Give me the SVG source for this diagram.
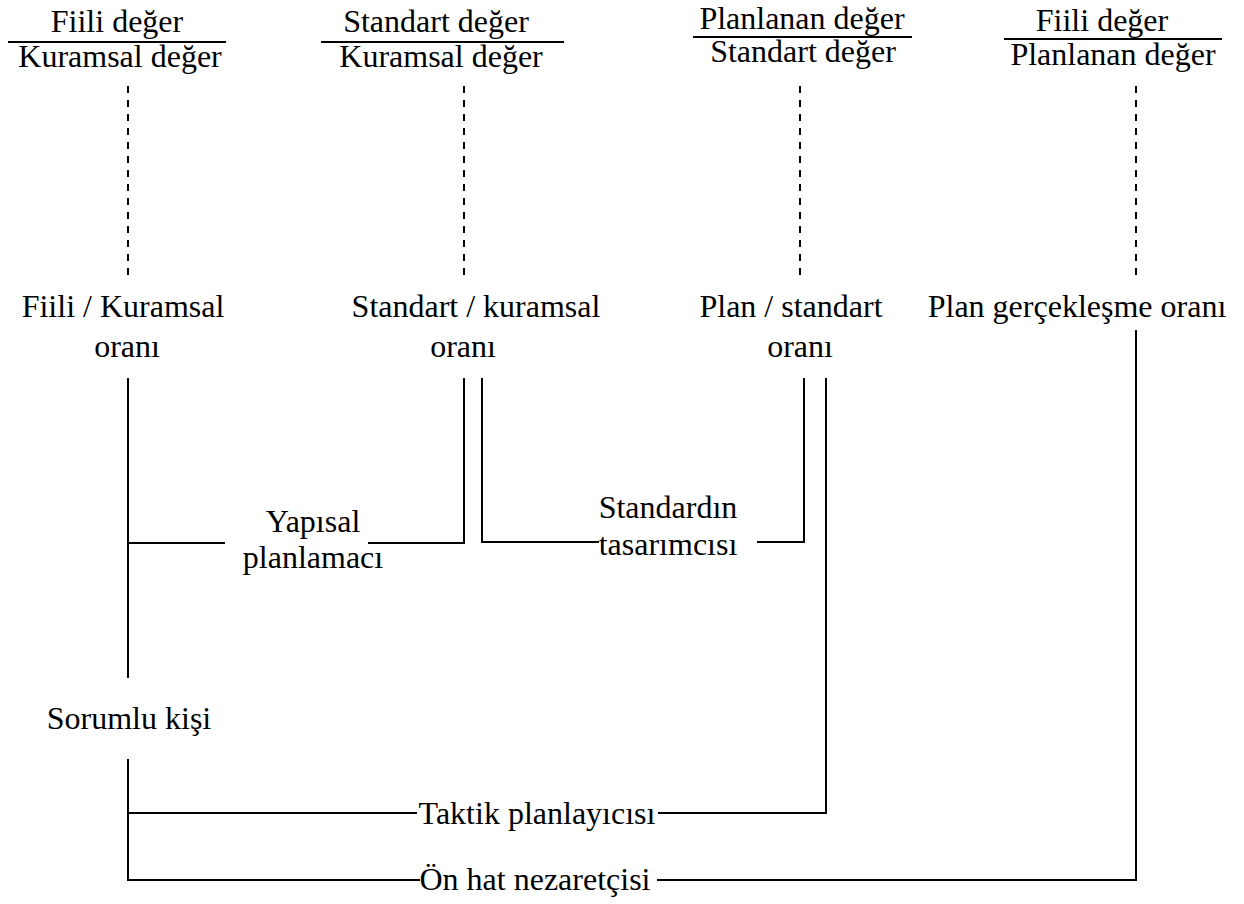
<svg xmlns="http://www.w3.org/2000/svg" width="1244" height="904" viewBox="0 0 1244 904">
<style>
text{font-family:"Liberation Serif","Times New Roman",serif;font-size:32px;fill:#000;text-anchor:middle}
.ln{stroke:#000;stroke-width:2;fill:none}
.dash{stroke:#000;stroke-width:2;stroke-dasharray:7 7;fill:none}
</style>
<rect width="1244" height="904" fill="#fff"/>
<g id="frac1"><text x="117" y="32">Fiili değer</text><line class="ln" x1="8" y1="42" x2="226" y2="42"/><text x="120" y="67">Kuramsal değer</text></g>
<g id="frac2"><text x="436" y="32">Standart değer</text><line class="ln" x1="321" y1="42" x2="564" y2="42"/><text x="441" y="67">Kuramsal değer</text></g>
<g id="frac3"><text x="802" y="29">Planlanan değer</text><line class="ln" x1="693" y1="37" x2="912" y2="37"/><text x="803" y="62">Standart değer</text></g>
<g id="frac4"><text x="1102" y="31">Fiili değer</text><line class="ln" x1="1004" y1="39" x2="1222" y2="39"/><text x="1113" y="65">Planlanan değer</text></g>
<g id="r1"><text x="123" y="317">Fiili / Kuramsal</text><text x="127" y="357">oranı</text></g>
<g id="r2"><text x="476" y="317">Standart / kuramsal</text><text x="463" y="357">oranı</text></g>
<g id="r3"><text x="791" y="317">Plan / standart</text><text x="800" y="357">oranı</text></g>
<g id="r4"><text x="1077" y="317">Plan gerçekleşme oranı</text></g>
<g id="yapisal"><text x="313" y="532">Yapısal</text><text x="313" y="568">planlamacı</text></g>
<g id="standardin"><text x="668" y="518">Standardın</text><text x="668" y="555">tasarımcısı</text></g>
<g id="sorumlu"><text x="129" y="729">Sorumlu kişi</text></g>
<g id="taktik"><text x="537" y="824">Taktik planlayıcısı</text></g>
<g id="onhat"><text x="535" y="890">Ön hat nezaretçisi</text></g>
<g id="connectors">
<line class="dash" x1="128" y1="86" x2="128" y2="277"/>
<line class="dash" x1="464" y1="86" x2="464" y2="277"/>
<line class="dash" x1="800" y1="86" x2="800" y2="277"/>
<line class="dash" x1="1136" y1="86" x2="1136" y2="277"/>
<line class="ln" x1="128" y1="378" x2="128" y2="678"/>
<polyline class="ln" points="128,543 225,543"/>
<polyline class="ln" points="368,543 464,543 464,378"/>
<polyline class="ln" points="482,378 482,542 599,542"/>
<polyline class="ln" points="757,542 804,542 804,378"/>
<polyline class="ln" points="128,759 128,880 420,880"/>
<polyline class="ln" points="128,813 417,813"/>
<polyline class="ln" points="658,813 826,813 826,378"/>
<polyline class="ln" points="657,880 1136,880 1136,330"/>
</g>
</svg>
